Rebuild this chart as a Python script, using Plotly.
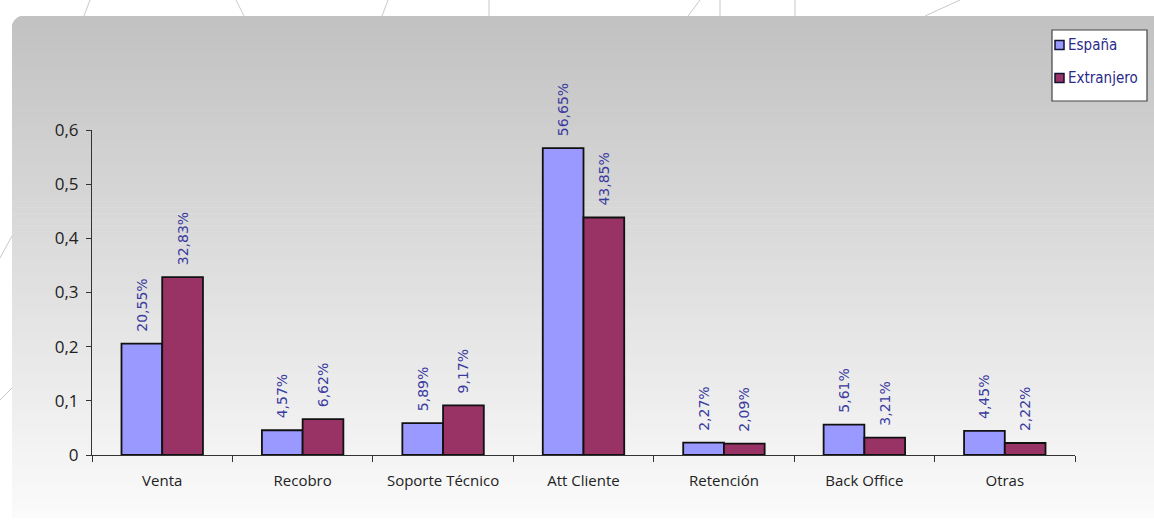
import plotly.graph_objects as go

categorias = ["Venta", "Recobro", "Soporte Técnico", "Att Cliente", "Retención", "Back Office", "Otras"]
espana = [0.2055, 0.0457, 0.0589, 0.5665, 0.0227, 0.0561, 0.0445]
extranjero = [0.3283, 0.0662, 0.0917, 0.4385, 0.0209, 0.0321, 0.0222]
y_ticks = [0, 0.1, 0.2, 0.3, 0.4, 0.5, 0.6]
series_names = ["España", "Extranjero"]
series_colors = ["#9999FF", "#993366"]


def pct(v):
    return "\u00a0\u00a0" + f"{v * 100:.2f}%".replace(".", ",")


W, H = 1154, 522
L, R, T, B = 92, 1075, 130, 455  # plot-area edges in pixels


def px(x):
    return (x - L) / (R - L)


def py(y):
    return (B - y) / (B - T)


LABEL_FONT = dict(color="#3a3aa0", size=14, family="DejaVu Sans")

fig = go.Figure()
for name, vals, col in zip(series_names, [espana, extranjero], series_colors):
    fig.add_bar(name=name, x=categorias, y=vals,
                marker=dict(color=col, line=dict(color="#111111", width=1.8)),
                text=[pct(v) for v in vals], textposition="outside", textangle=-90,
                textfont=LABEL_FONT, constraintext="none", cliponaxis=False,
                showlegend=False)

# gradient panel behind the chart, built from thin horizontal strips
shapes = []
top, bottom, left, right = 16, 518, 12, 1160
n = 84
step = (bottom - top) / n
c0, c1 = 0xC2, 0xFB
for i in range(n):
    y0 = top + i * step
    y1 = y0 + step + 0.6
    t = i / (n - 1)
    g = int(c0 + (c1 - c0) * t)
    shapes.append(dict(type="rect", xref="paper", yref="paper", layer="below",
                       x0=px(left), x1=px(right), y0=py(y0), y1=py(min(y1, bottom)),
                       fillcolor=f"rgb({g},{g},{g})", line=dict(width=0)))
# rounded top-left corner
r = 14
shapes.append(dict(type="path", xref="paper", yref="paper", layer="below",
                   path=f"M {px(left - 1)},{py(top - 1)} L {px(left + r)},{py(top - 1)} "
                        f"Q {px(left)},{py(top)} {px(left - 1)},{py(top + r)} Z",
                   fillcolor="white", line=dict(width=0)))
# faint decorative lines along the top and left margins
for (xa, ya, xb, yb) in [(84, 16, 90, 0), (236, 0, 244, 16), (382, 16, 388, 0),
                         (489, 0, 489, 16), (688, 16, 700, 0), (720, 0, 720, 16),
                         (795, 0, 795, 16), (925, 16, 960, 0),
                         (0, 258, 12, 236), (0, 400, 12, 388)]:
    shapes.append(dict(type="line", xref="paper", yref="paper", layer="below",
                       x0=px(xa), y0=py(ya), x1=px(xb), y1=py(yb),
                       line=dict(color="rgb(200,200,200)", width=1)))

# legend box with small swatches
annotations = []
shapes.append(dict(type="rect", xref="paper", yref="paper",
                   x0=px(1052), x1=px(1147), y0=py(30), y1=py(101),
                   fillcolor="white", line=dict(color="#444444", width=1.2)))
for k, (name, col) in enumerate(zip(series_names, series_colors)):
    cy = 45 + 33 * k
    shapes.append(dict(type="rect", xref="paper", yref="paper",
                       x0=px(1055), x1=px(1064), y0=py(cy + 4.5), y1=py(cy - 4.5),
                       fillcolor=col, line=dict(color="#111133", width=1.5)))
    annotations.append(dict(xref="paper", yref="paper", x=px(1066), y=py(cy),
                            xanchor="left", yanchor="middle", showarrow=False,
                            text=name, font=dict(color="#2a2a8a", size=15,
                                                 family="Liberation Sans Narrow, DejaVu Sans Condensed, Arial Narrow")))

fig.update_layout(
    width=W, height=H,
    margin=dict(l=L, r=W - R, t=T, b=H - B, pad=0, autoexpand=False),
    paper_bgcolor="white", plot_bgcolor="rgba(0,0,0,0)",
    separators=",.",
    barmode="group", bargap=0.42, bargroupgap=0,
    font=dict(family="Open Sans", color="#222222", size=13),
    shapes=shapes, annotations=annotations,
    showlegend=False,
    xaxis=dict(type="category", showline=True, linecolor="#333333", linewidth=1,
               ticks="outside", ticklen=6, tickcolor="#333333", tickson="boundaries",
               showgrid=False, ticklabelstandoff=12,
               tickfont=dict(size=15, family="Open Sans", color="#222222")),
    yaxis=dict(range=[0, 0.6], tickvals=y_ticks, showline=True, linecolor="#333333",
               linewidth=1, ticks="outside", ticklen=5, tickcolor="#333333",
               showgrid=False, zeroline=False, ticklabelstandoff=4,
               tickfont=dict(size=17, family="Open Sans", color="#222222")),
    uniformtext=dict(mode=False),
)

fig.write_html("out.html")
